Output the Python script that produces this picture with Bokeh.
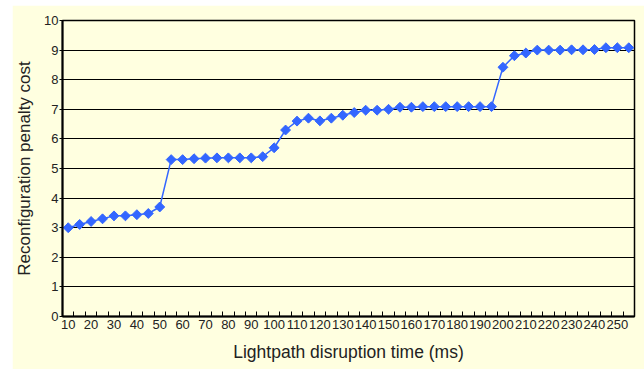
import math
from bokeh.plotting import figure
from bokeh.models import FixedTicker, Range1d
from bokeh.embed import file_html
from bokeh.resources import INLINE

disruption_ms = list(range(10, 260, 5))
penalty_cost = [3.0, 3.11, 3.21, 3.3, 3.4, 3.4, 3.44, 3.48, 3.7, 5.3,
                5.3, 5.33, 5.35, 5.36, 5.36, 5.36, 5.36, 5.4, 5.7, 6.3,
                6.6, 6.7, 6.61, 6.7, 6.8, 6.89, 6.97, 6.97, 7.0, 7.07,
                7.07, 7.09, 7.09, 7.09, 7.09, 7.09, 7.09, 7.09, 8.42, 8.81,
                8.9, 9.0, 9.0, 9.0, 9.01, 9.01, 9.02, 9.08, 9.08, 9.08]
x_tick_labels = list(range(10, 260, 10))
y_ticks = list(range(0, 11))

BG = "#FFFFE0"
BLUE = "#3366FF"
FONT = "Liberation Sans"

p = figure(width=632, height=364, output_backend="svg", toolbar_location=None,
           x_range=Range1d(7.5, 257.5), y_range=Range1d(0, 10),
           min_border_left=49, min_border_right=10, min_border_top=15, min_border_bottom=53)
p.margin = (5, 0, 0, 12)
p.background_fill_color = BG
p.border_fill_color = BG
p.outline_line_color = "black"
p.outline_line_width = 1.5

p.line(disruption_ms, penalty_cost, line_color=BLUE, line_width=1.5)
p.scatter(disruption_ms, penalty_cost, marker="square", angle=math.pi / 4, size=7,
          fill_color=BLUE, line_color=BLUE)

p.xgrid.visible = False
p.ygrid.grid_line_color = "black"
p.ygrid.grid_line_width = 1.2
p.ygrid.ticker = FixedTicker(ticks=y_ticks)

xa = p.xaxis[0]
xa.ticker = FixedTicker(ticks=x_tick_labels, minor_ticks=[d + 2.5 for d in disruption_ms])
xa.major_tick_in = 0
xa.major_tick_out = 0
xa.minor_tick_in = 5
xa.minor_tick_out = 0
xa.minor_tick_line_color = "black"
xa.axis_line_color = "black"
xa.axis_line_width = 2
xa.major_label_text_font = FONT
xa.major_label_text_font_size = "13px"
xa.major_label_text_color = "#222222"
xa.major_label_standoff = 3
xa.axis_label = "Lightpath disruption time (ms)"
xa.axis_label_text_font = FONT
xa.axis_label_text_font_size = "17.5px"
xa.axis_label_text_font_style = "normal"
xa.axis_label_text_color = "#222222"
xa.axis_label_standoff = 10

ya = p.yaxis[0]
ya.ticker = FixedTicker(ticks=y_ticks)
ya.major_tick_in = 0
ya.major_tick_out = 3
ya.minor_tick_in = 0
ya.minor_tick_out = 0
ya.axis_line_color = "black"
ya.axis_line_width = 2
ya.major_label_text_font = FONT
ya.major_label_text_font_size = "13px"
ya.major_label_text_color = "#222222"
ya.major_label_standoff = 1
ya.axis_label = "Reconfiguration penalty cost"
ya.axis_label_text_font = FONT
ya.axis_label_text_font_size = "17px"
ya.axis_label_text_font_style = "normal"
ya.axis_label_text_color = "#222222"
ya.axis_label_standoff = 7

open("out.html", "w").write(file_html(p, INLINE))
